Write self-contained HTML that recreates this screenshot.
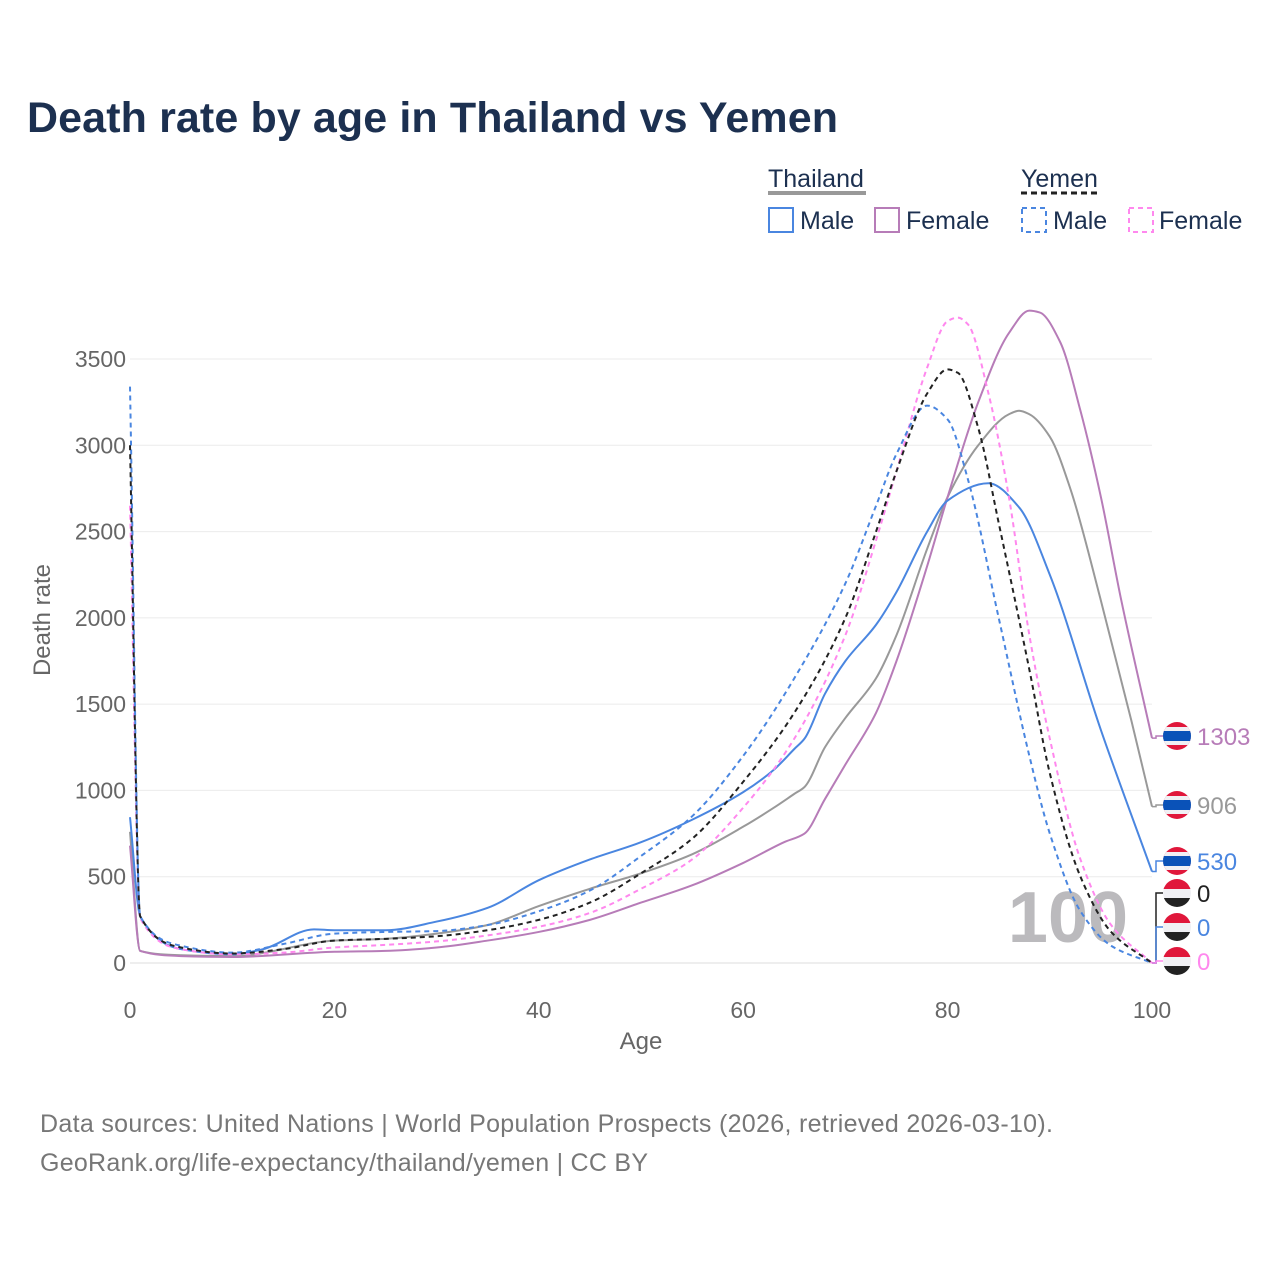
<!DOCTYPE html>
<html><head><meta charset="utf-8"><style>
body{margin:0;background:#fff;font-family:"Liberation Sans",sans-serif;}
#wrap{position:relative;width:1280px;height:1280px;overflow:hidden;}
</style></head><body>
<div id="wrap">
<svg id="svg" width="1280" height="1280" xmlns="http://www.w3.org/2000/svg" font-family="Liberation Sans, sans-serif">
<text x="27" y="132" font-size="43" font-weight="bold" fill="#1c3050" textLength="811">Death rate by age in Thailand vs Yemen</text>
<g font-size="25" fill="#1c3050">
<text x="768" y="187">Thailand</text>
<line x1="768" y1="193" x2="866" y2="193" stroke="#999" stroke-width="4"/>
<text x="1021" y="187">Yemen</text>
<line x1="1021" y1="193" x2="1098" y2="193" stroke="#222" stroke-width="3" stroke-dasharray="6,4"/>
<g><rect x="769" y="208" width="24" height="24" fill="none" stroke="#4a86e0" stroke-width="2"/><text x="800" y="229">Male</text></g>
<g><rect x="875" y="208" width="24" height="24" fill="none" stroke="#b77cb8" stroke-width="2"/><text x="906" y="229">Female</text></g>
<g><rect x="1022" y="208" width="24" height="24" fill="none" stroke="#4a86e0" stroke-width="2" stroke-dasharray="5,4"/><text x="1053" y="229">Male</text></g>
<g><rect x="1129" y="208" width="24" height="24" fill="none" stroke="#ff88ee" stroke-width="2" stroke-dasharray="5,4"/><text x="1159" y="229">Female</text></g>
</g>
<g id="grid"></g>
<text x="1068" y="942" font-size="72" font-weight="bold" fill="#bbbabd" text-anchor="middle">100</text>
<g id="series"></g>
<g id="ends"></g>
<text x="641" y="1049" font-size="24" fill="#666" text-anchor="middle">Age</text>
<text transform="translate(50,620) rotate(-90)" font-size="24" fill="#666" text-anchor="middle">Death rate</text>
<text x="40" y="1132" font-size="25" fill="#777" textLength="1013">Data sources: United Nations | World Population Prospects (2026, retrieved 2026-03-10).</text>
<text x="40" y="1171" font-size="25" fill="#777" textLength="608">GeoRank.org/life-expectancy/thailand/yemen | CC BY</text>
</svg>
</div>
<script>
const xTicks=[0,20,40,60,80,100];
const yTicks=[0,500,1000,1500,2000,2500,3000,3500];
const thMaleAges=[0,1,5,10,13,18,20,25,30,35,40,45,50,55,60,63,65,66,68,70,73,75,78,80,84,87,90,95,100];
const thMaleVals=[845,270,80,50,80,195,190,190,240,320,480,600,700,830,990,1120,1240,1300,1560,1750,1960,2150,2500,2680,2780,2640,2250,1350,530];
const thFemAges=[0,1,5,10,20,25,30,35,40,45,50,55,60,64,66,68,70,73,75,78,80,83,86,88,89,91,93,95,97,100];
const thFemVals=[680,70,40,35,65,70,90,130,180,250,350,450,580,700,750,950,1150,1450,1750,2300,2700,3250,3650,3780,3770,3600,3200,2700,2100,1303];
const thAllAges=[0,1,5,10,20,25,30,35,40,45,50,55,60,63,65,66,68,70,73,75,78,80,83,86,87,88,90,92,95,98,100];
const thAllVals=[760,70,45,40,130,140,170,220,330,430,520,630,790,900,980,1020,1250,1420,1650,1900,2400,2700,3000,3180,3200,3180,3050,2750,2100,1400,906];
const yeMaleAges=[0,1,5,10,15,20,25,30,35,40,45,50,55,60,65,70,73,75,78,80,82,85,88,90,93,96,100];
const yeMaleVals=[3340,270,100,60,110,170,180,185,220,300,420,620,850,1200,1650,2200,2650,2950,3230,3150,2800,2000,1200,750,300,100,0];
const yeAllAges=[0,1,5,10,15,20,25,30,35,40,45,50,55,60,65,70,73,75,78,80,81,83,85,88,90,93,96,100];
const yeAllVals=[3000,270,90,55,80,130,140,155,190,250,350,520,720,1050,1450,2000,2500,2850,3300,3440,3420,3100,2550,1700,1100,500,180,0];
const yeFemAges=[0,1,5,10,15,20,25,30,35,40,45,50,55,60,65,70,73,75,78,80,81,82,84,86,88,90,93,96,100];
const yeFemVals=[2650,260,80,50,60,90,105,125,160,210,290,430,600,900,1300,1900,2450,2850,3450,3720,3740,3700,3300,2700,1900,1300,600,220,0];

const NS="http://www.w3.org/2000/svg";
const X=a=>130+a*(1152-130)/100;
const Y=v=>963-v*(963-359)/3500;
function mk(t,attrs,parent){const e=document.createElementNS(NS,t);for(const k in attrs)e.setAttribute(k,attrs[k]);parent.appendChild(e);return e;}
const grid=document.getElementById('grid');
yTicks.forEach(v=>{
  const l=mk('line',{x1:130,x2:1152,y1:Y(v),y2:Y(v),stroke:v===0?'#ddd':'#ebebeb','stroke-width':1},grid);
  
  
  const t=mk('text',{x:126,y:Y(v)+8,'font-size':23,fill:'#666','text-anchor':'end'},grid);
  t.textContent=v;
  
  
});
xTicks.forEach(a=>{
  const t=mk('text',{x:X(a),y:1018,'font-size':23,fill:'#666','text-anchor':'middle'},grid);
  t.textContent=a;
  
  
});
// monotone cubic (Fritsch-Carlson)
function pathFor(ages,vals){
  const xs=ages.map(X), ys=vals.map(Y), n=xs.length;
  const d=[],m=new Array(n);
  for(let i=0;i<n-1;i++)d.push((ys[i+1]-ys[i])/(xs[i+1]-xs[i]));
  m[0]=d[0];m[n-1]=d[n-2];
  for(let i=1;i<n-1;i++){
    if(d[i-1]*d[i]<=0)m[i]=0;
    else{const h0=xs[i]-xs[i-1],h1=xs[i+1]-xs[i];const w1=2*h1+h0,w2=h1+2*h0;m[i]=(w1+w2)/(w1/d[i-1]+w2/d[i]);}
  }
  let s=`M${xs[0]},${ys[0]}`;
  for(let i=0;i<n-1;i++){
    const h=(xs[i+1]-xs[i])/3;
    s+=` C${xs[i]+h},${ys[i]+m[i]*h} ${xs[i+1]-h},${ys[i+1]-m[i+1]*h} ${xs[i+1]},${ys[i+1]}`;
  }
  return s;
}
const series=document.getElementById('series');
const defs=[
 ['thailand-all',thAllAges,thAllVals,'#999',null],
 ['thailand-female',thFemAges,thFemVals,'#b77cb8',null],
 ['thailand-male',thMaleAges,thMaleVals,'#4a86e0',null],
 ['yemen-female',yeFemAges,yeFemVals,'#ff88ee','5,4'],
 ['yemen-male',yeMaleAges,yeMaleVals,'#4a86e0','5,4'],
 ['yemen-all',yeAllAges,yeAllVals,'#222','5,4']
];
defs.forEach(([n,a,v,c,dash])=>{
  const e=mk('path',{d:pathFor(a,v),fill:'none',stroke:c,'stroke-width':2},series);
  if(dash)e.setAttribute('stroke-dasharray',dash);
  
  
});
const ends=document.getElementById('ends');
function flag(cx,cy,th){
  const g=mk('g',{},ends);
  const id='c'+Math.round(cy);
  const cp=mk('clipPath',{id:id},g);mk('circle',{cx:cx,cy:cy,r:14},cp);
  const gg=mk('g',{'clip-path':`url(#${id})`},g);
  if(th){
    mk('rect',{x:cx-14,y:cy-14,width:28,height:28,fill:'#e0173b'},gg);
    mk('rect',{x:cx-14,y:cy-9,width:28,height:18,fill:'#f0f0f4'},gg);
    mk('rect',{x:cx-14,y:cy-5,width:28,height:10,fill:'#0a52b8'},gg);
  }else{
    mk('rect',{x:cx-14,y:cy-14,width:28,height:10,fill:'#e0173b'},gg);
    mk('rect',{x:cx-14,y:cy-4,width:28,height:9,fill:'#f0f0f4'},gg);
    mk('rect',{x:cx-14,y:cy+5,width:28,height:10,fill:'#222'},gg);
  }
  return g;
}
const endLabels=[
 [thFemVals[thFemVals.length-1],736,'#b77cb8',true,'thailand-female'],
 [thAllVals[thAllVals.length-1],805,'#999',true,'thailand-all'],
 [thMaleVals[thMaleVals.length-1],861,'#4a86e0',true,'thailand-male'],
 [yeAllVals[yeAllVals.length-1],893,'#222',false,'yemen-all'],
 [yeMaleVals[yeMaleVals.length-1],927,'#4a86e0',false,'yemen-male'],
 [yeFemVals[yeFemVals.length-1],961,'#ff88ee',false,'yemen-female']
];
endLabels.forEach(([v,ly,c,th,n])=>{
  const y0=Y(v);
  mk('path',{d:`M1152,${y0} L1156,${y0} L1156,${ly} L1163,${ly}`,fill:'none',stroke:c,'stroke-width':1.5},ends);
  const f=flag(1177,ly,th);
  
  
  const t=mk('text',{x:1197,y:ly+9,'font-size':24,fill:c},ends);
  t.textContent=v;
  
  
});
</script>
</body></html>
